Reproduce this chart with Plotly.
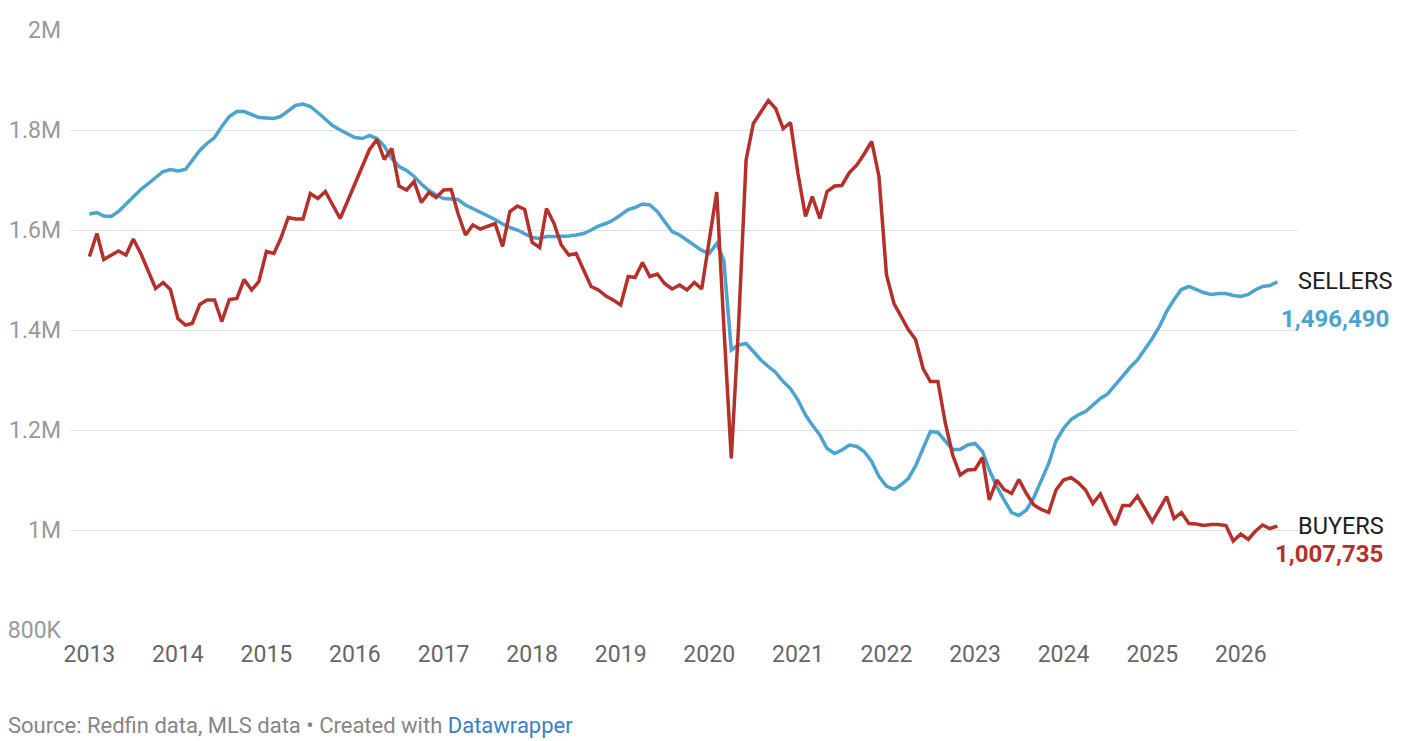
import pandas as pd
import plotly.graph_objects as go

# monthly values, Jan 2013 - Jun 2026 (thousands)
months = pd.date_range("2013-01-01", periods=162, freq="MS")

sellers_k = [
    1632, 1635, 1628, 1627, 1637, 1652, 1667, 1681, 1693, 1705, 1717, 1721,
    1718, 1721, 1739, 1759, 1773, 1785, 1807, 1827, 1837, 1837, 1831, 1825,
    1824, 1823, 1827, 1839, 1849, 1852, 1847, 1835, 1821, 1809, 1800, 1792,
    1785, 1783, 1789, 1783, 1768, 1743, 1727, 1719, 1707, 1692, 1679, 1670,
    1663, 1662, 1661, 1650, 1643, 1637, 1630, 1621, 1612, 1605, 1600, 1593,
    1585, 1583, 1587, 1587, 1587, 1588, 1590, 1593, 1600, 1608, 1613, 1620,
    1630, 1641, 1645, 1652, 1650, 1637, 1617, 1597, 1590, 1580, 1570, 1559,
    1553, 1573, 1540, 1360, 1370, 1373, 1357, 1340, 1327, 1315, 1297, 1283,
    1260, 1230, 1210, 1190, 1163, 1153, 1160, 1170, 1167, 1157, 1137, 1107,
    1088, 1081, 1090, 1103, 1128, 1163, 1197, 1195, 1177, 1161, 1161, 1170,
    1173, 1157, 1120, 1087, 1060, 1035, 1029, 1040, 1065, 1097, 1133, 1178,
    1203, 1221, 1230, 1237, 1250, 1263, 1272, 1290, 1310, 1325, 1340, 1361,
    1383, 1408, 1437, 1461, 1481, 1487, 1481, 1475, 1471, 1473, 1473, 1469,
    1467, 1471, 1480, 1487, 1489, 1496.49,
]

buyers_k = [
    1547, 1593, 1541, 1550, 1558, 1550, 1582, 1553, 1517, 1483, 1495, 1481,
    1423, 1410, 1413, 1451, 1460, 1460, 1417, 1461, 1463, 1501, 1480, 1497,
    1557, 1553, 1583, 1625, 1622, 1622, 1673, 1663, 1677, 1650, 1623, 1657,
    1691, 1728, 1761, 1781, 1741, 1763, 1688, 1680, 1697, 1655, 1675, 1665,
    1680, 1681, 1633, 1590, 1610, 1602, 1608, 1613, 1567, 1637, 1648, 1641,
    1575, 1565, 1643, 1613, 1570, 1550, 1553, 1520, 1487, 1480, 1468, 1460,
    1450, 1507, 1505, 1535, 1507, 1512, 1493, 1482, 1490, 1480, 1495, 1482,
    1575, 1676, 1410, 1143, 1408, 1740, 1813, 1837, 1859, 1843, 1803, 1815,
    1713, 1627, 1667, 1623, 1677, 1688, 1689, 1715, 1730, 1752, 1777, 1707,
    1510, 1453, 1427, 1401, 1381, 1323, 1297, 1297, 1213, 1150, 1110, 1120,
    1121, 1145, 1060, 1100, 1081, 1073, 1101, 1073, 1050, 1041, 1035, 1080,
    1100, 1105, 1095, 1080, 1053, 1072, 1040, 1010, 1049, 1049, 1068, 1043,
    1017, 1043, 1067, 1023, 1035, 1013, 1012, 1009, 1011, 1011, 1009, 978,
    992, 981, 997, 1010, 1003, 1007.735,
]

sellers = [v * 1000 for v in sellers_k]
buyers = [v * 1000 for v in buyers_k]

y_ticks = [800000, 1000000, 1200000, 1400000, 1600000, 1800000, 2000000]
y_labels = ["800K", "1M", "1.2M", "1.4M", "1.6M", "1.8M", "2M"]

BLUE = "#4ba3cf"
RED = "#b5302a"
FONT = "Roboto"

fig = go.Figure()
fig.add_trace(go.Scatter(x=months, y=sellers, mode="lines", name="Sellers",
                         line=dict(color=BLUE, width=3.5)))
fig.add_trace(go.Scatter(x=months, y=buyers, mode="lines", name="Buyers",
                         line=dict(color=RED, width=3.5)))

# end-of-line labels
last = months[-1]
fig.add_annotation(x=last, y=sellers[-1], text="SELLERS", showarrow=False,
                   xanchor="left", yanchor="middle", xshift=19, yshift=1,
                   font=dict(family=FONT, size=23.5, color="#1d1d1d"))
fig.add_annotation(x=last, y=sellers[-1], text="<b>1,496,490</b>", showarrow=False,
                   xanchor="left", yanchor="middle", xshift=2, yshift=-37,
                   font=dict(family=FONT, size=24, color=BLUE))
fig.add_annotation(x=last, y=buyers[-1], text="BUYERS", showarrow=False,
                   xanchor="left", yanchor="middle", xshift=19, yshift=0,
                   font=dict(family=FONT, size=23.5, color="#1d1d1d"))
fig.add_annotation(x=last, y=buyers[-1], text="<b>1,007,735</b>", showarrow=False,
                   xanchor="left", yanchor="middle", xshift=-4, yshift=-28,
                   font=dict(family=FONT, size=24, color=RED))

# source line
fig.add_annotation(xref="paper", yref="paper", x=0, y=0, xanchor="left", yanchor="middle",
                   xshift=-64, yshift=-95, showarrow=False,
                   text='Source: Redfin data, MLS data • Created with '
                        '<span style="color:#3a7fc3">Datawrapper</span>',
                   font=dict(family=FONT, size=22, color="#858585"))

# page body has an 8px margin, so the figure is 8px smaller than the window
fig.update_layout(
    width=1404, height=733,
    margin=dict(l=62, r=114, t=22, b=111, autoexpand=False),
    paper_bgcolor="white", plot_bgcolor="white",
    showlegend=False,
    font=dict(family=FONT),
)
fig.update_xaxes(
    type="date", range=["2012-10-13", "2026-08-25"],
    tick0="2013-01-01", dtick="M12", tickformat="%Y",
    showgrid=False, zeroline=False, showline=False, ticks="",
    ticklabelstandoff=8, automargin=False,
    tickfont=dict(family=FONT, size=23, color="#666666"),
)
fig.update_yaxes(
    range=[800000, 2000000], tickvals=y_ticks, ticktext=y_labels,
    showgrid=True, gridcolor="#e1e1e1", gridwidth=1,
    zeroline=False, showline=False, ticks="",
    ticklabelstandoff=8, automargin=False,
    tickfont=dict(family=FONT, size=23, color="#999999"),
)

fig.write_html("out.html")
